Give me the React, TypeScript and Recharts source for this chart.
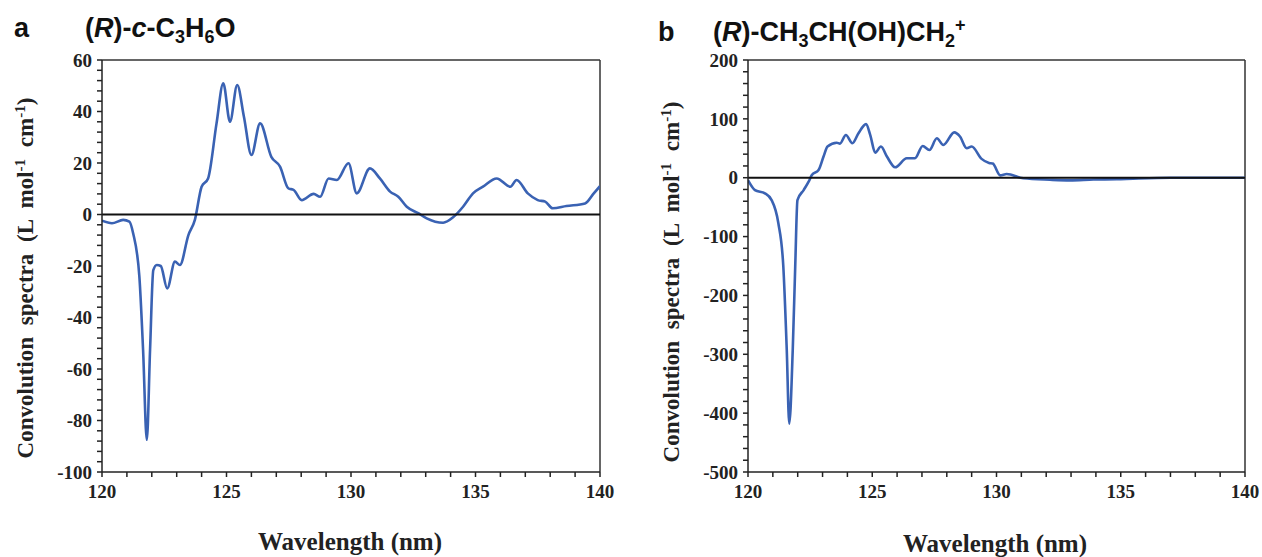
import React from "react";
import {
  LineChart,
  Line,
  XAxis,
  YAxis,
  ReferenceLine,
} from "recharts";

// panel a: (R)-c-C3H6O
const wavelengthA = [
  120.0, 120.4, 120.85, 121.1, 121.25, 121.5, 121.65, 121.8, 121.93, 122.06,
  122.2, 122.36, 122.62, 122.93, 123.13, 123.47, 123.73, 124.0, 124.26, 124.6,
  124.87, 125.14, 125.43, 125.7, 126.0, 126.35, 126.8, 127.15, 127.48, 127.7,
  128.02, 128.5, 128.76, 129.1, 129.43, 129.9, 130.23, 130.76, 131.16, 131.57,
  131.9, 132.24, 132.7, 133.04, 133.7, 134.1, 134.5, 134.9, 135.3, 135.85,
  136.4, 136.65, 137.1, 137.5, 137.8, 138.1, 138.65, 139.4, 139.75, 140.0,
];
const spectrumA = [
  -2.4, -3.4, -2.1, -2.8, -7.3, -24, -52.6, -87.5, -52.6, -21.6,
  -19.6, -20, -28.7, -18.3, -19.6, -8, -2.1, 10.8, 14, 35.4,
  51, 36, 50.3, 38, 23.1, 35.4, 22.4, 18.6, 10.2, 9.5,
  5.6, 8, 6.9, 14, 13.4, 19.9, 8.2, 17.9, 14, 8.9,
  6.9, 3, 0.5, -1.5, -3.2, -1.1, 3, 8.2, 10.8, 14,
  10.8, 13.4, 8.2, 5.6, 5, 2.4, 3.3, 4.3, 8.2, 11,
];

// panel b: (R)-CH3CH(OH)CH2+
const wavelengthB = [
  120.0, 120.28, 120.68, 120.95, 121.22, 121.42, 121.56, 121.66, 121.8, 121.9,
  121.99, 122.24, 122.44, 122.57, 122.84, 123.04, 123.2, 123.57, 123.7, 123.94,
  124.2, 124.44, 124.75, 124.92, 125.12, 125.35, 125.59, 125.92, 126.39, 126.72,
  127.03, 127.3, 127.6, 127.86, 128.3, 128.53, 128.8, 129.0, 129.4, 129.7,
  129.85, 130.15, 130.41, 131.08, 132.15, 132.96, 133.9, 134.84, 135.5, 137.0,
  140.0,
];
const spectrumB = [
  -4, -21, -26.5, -38, -77, -150, -293, -418, -293, -151,
  -38, -21, -6.8, 4.6, 13, 36, 53, 59.5, 58, 72.5,
  58.5, 75, 91, 72.5, 42.5, 53, 36, 17.7, 33, 33,
  54, 47, 67, 55.5, 77, 70, 50, 53, 32, 25,
  24, 4, 6.3, -1, -3.5, -4.5, -3, -2.5, -1.5, 0,
  0,
];

const xLabels = [120, 125, 130, 135, 140];
const yLabelsA = [-100, -80, -60, -40, -20, 0, 20, 40, 60];
const yLabelsB = [-500, -400, -300, -200, -100, 0, 100, 200];

const steps = (from: number, to: number, step: number) => {
  const out: number[] = [];
  for (let v = from; v <= to + 1e-9; v += step) out.push(v);
  return out;
};

const dataA = wavelengthA.map((w, i) => ({ w, v: spectrumA[i] }));
const dataB = wavelengthB.map((w, i) => ({ w, v: spectrumB[i] }));

const BLUE = "#3a62b3";
const AXIS = "#222";
const tickFont = {
  fontFamily: "'Liberation Serif', serif",
  fontWeight: 700,
  fontSize: 19,
  fill: "#222",
};

function Panel({
  data,
  yMin,
  yMax,
  yStep,
  yLabels,
  margin,
}: {
  data: { w: number; v: number }[];
  yMin: number;
  yMax: number;
  yStep: number;
  yLabels: number[];
  margin: { top: number; right: number; left: number; bottom: number };
}) {
  return (
    <LineChart width={620} height={520} data={data} margin={margin}>
      <XAxis
        dataKey="w"
        type="number"
        domain={[120, 140]}
        ticks={steps(120, 140, 1)}
        tickFormatter={(v: number) => (xLabels.includes(v) ? String(v) : "")}
        interval={0}
        height={30}
        tickSize={5}
        tickMargin={8}
        stroke={AXIS}
        strokeWidth={1.5}
        tick={tickFont}
        allowDataOverflow
      />
      <YAxis
        type="number"
        domain={[yMin, yMax]}
        ticks={steps(yMin, yMax, yStep)}
        tickFormatter={(v: number) => (yLabels.includes(Math.round(v)) ? String(Math.round(v)) : "")}
        interval={0}
        width={60}
        tickSize={5}
        tickMargin={5}
        stroke={AXIS}
        strokeWidth={1.5}
        tick={tickFont}
        allowDataOverflow
      />
      <ReferenceLine y={yMax} stroke="#333" strokeWidth={1.5} ifOverflow="visible" />
      <ReferenceLine x={140} stroke="#333" strokeWidth={1.5} ifOverflow="visible" />
      <Line
        type="monotone"
        dataKey="v"
        stroke={BLUE}
        strokeWidth={2.6}
        dot={false}
        isAnimationActive={false}
      />
      <ReferenceLine y={0} stroke="#111" strokeWidth={2} />
    </LineChart>
  );
}

const titleStyle: React.CSSProperties = {
  position: "absolute",
  fontFamily: "'Liberation Sans', Arial, sans-serif",
  fontWeight: 700,
  fontSize: 27,
  color: "#111",
  whiteSpace: "nowrap",
};

const subStyle: React.CSSProperties = { fontSize: 18, verticalAlign: "-6px", lineHeight: 0 };
const supStyle: React.CSSProperties = { fontSize: 18, verticalAlign: "10px", lineHeight: 0 };

function YTitle({ cx, cy }: { cx: number; cy: number }) {
  return (
    <div
      style={{
        position: "absolute",
        left: cx - 230,
        top: cy - 13,
        width: 460,
        height: 26,
        lineHeight: "26px",
        textAlign: "center",
        transform: "rotate(-90deg)",
        fontFamily: "'Liberation Serif', serif",
        fontWeight: 700,
        fontSize: 23,
        color: "#222",
        whiteSpace: "nowrap",
        wordSpacing: 6,
      }}
    >
      Convolution spectra (L mol
      <span style={{ fontSize: 15, verticalAlign: "8px", lineHeight: 0 }}>-1</span> cm
      <span style={{ fontSize: 15, verticalAlign: "8px", lineHeight: 0 }}>-1</span>)
    </div>
  );
}

function XTitle({ cx, top }: { cx: number; top: number }) {
  return (
    <div
      style={{
        position: "absolute",
        left: cx - 150,
        top,
        width: 300,
        textAlign: "center",
        fontFamily: "'Liberation Serif', serif",
        fontWeight: 700,
        fontSize: 25,
        color: "#222",
      }}
    >
      Wavelength (nm)
    </div>
  );
}

export default function App() {
  return (
    <div
      style={{
        position: "absolute",
        left: 0,
        top: 0,
        width: 1262,
        height: 557,
        background: "#fff",
        overflow: "hidden",
      }}
    >
      <div style={{ ...titleStyle, left: 14, top: 13 }}>a</div>
      <div style={{ ...titleStyle, left: 85, top: 13 }}>
        (<i>R</i>)-<i>c</i>-C<span style={subStyle}>3</span>H
        <span style={subStyle}>6</span>O
      </div>
      <div style={{ ...titleStyle, left: 658, top: 17 }}>b</div>
      <div style={{ ...titleStyle, left: 713, top: 17 }}>
        (<i>R</i>)-CH<span style={subStyle}>3</span>CH(OH)CH<span style={subStyle}>2</span>
        <span style={supStyle}>+</span>
      </div>

      <div style={{ position: "absolute", left: 0, top: 0 }}>
        <Panel
          data={dataA}
          yMin={-100}
          yMax={60}
          yStep={4}
          yLabels={yLabelsA}
          margin={{ top: 60, right: 20, left: 42, bottom: 18 }}
        />
      </div>
      <div style={{ position: "absolute", left: 640, top: 0 }}>
        <Panel
          data={dataB}
          yMin={-500}
          yMax={200}
          yStep={20}
          yLabels={yLabelsB}
          margin={{ top: 60, right: 15, left: 48, bottom: 18 }}
        />
      </div>

      <YTitle cx={26} cy={278} />
      <YTitle cx={672} cy={282} />
      <XTitle cx={350} top={528} />
      <XTitle cx={995} top={530} />
    </div>
  );
}
